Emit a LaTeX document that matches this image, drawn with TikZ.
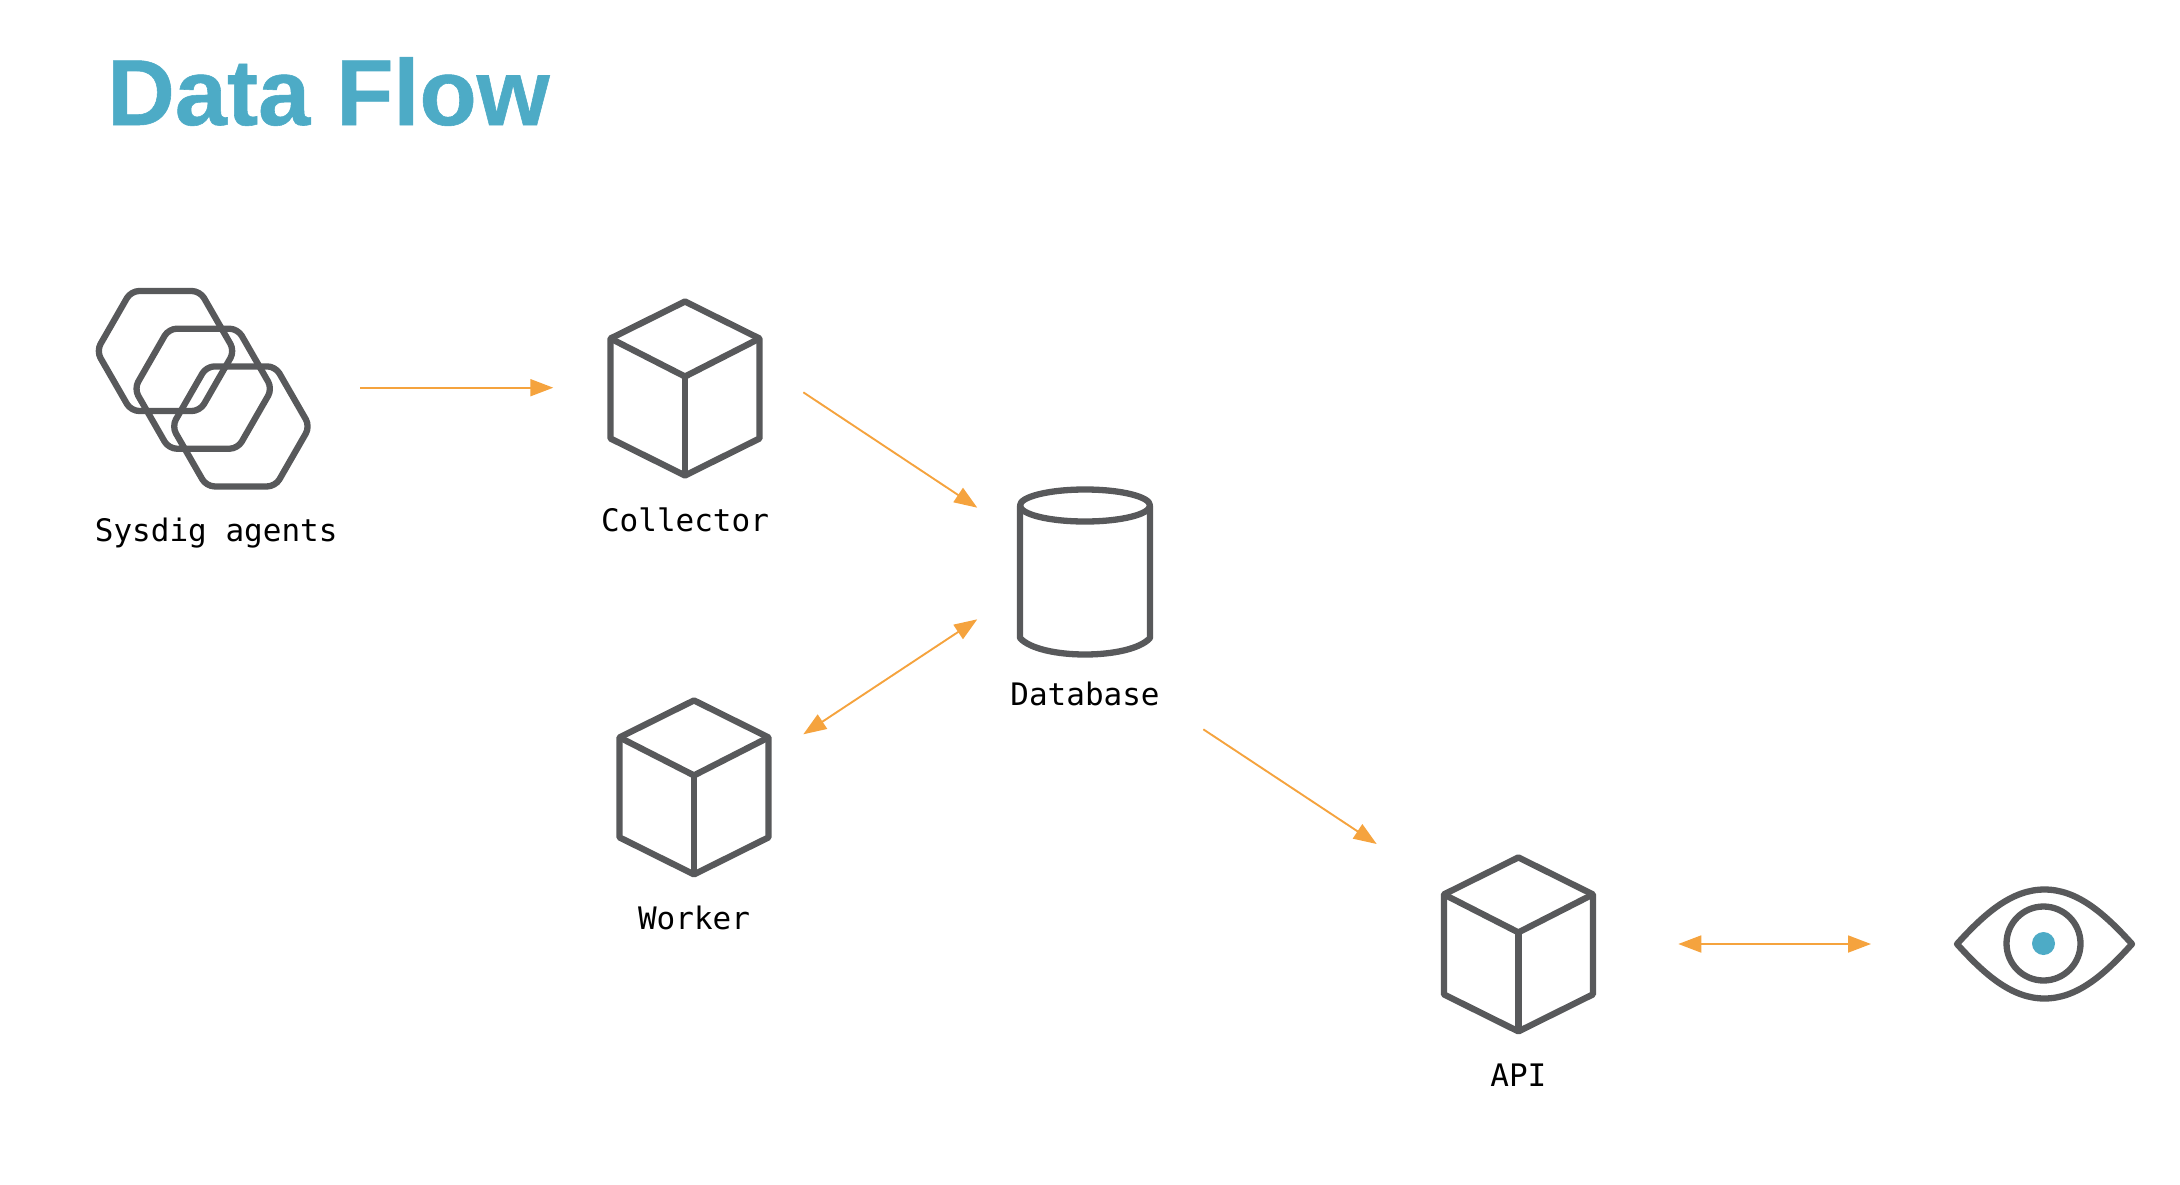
\documentclass[tikz,border=0pt]{standalone}
\usepackage{fontspec}
\setmainfont{Liberation Sans}
\setmonofont{DejaVu Sans Mono}
\newfontfamily\titlefont[BoldFeatures={FakeBold=0.6}]{Liberation Sans}
\usepackage{tikz}
\usetikzlibrary{positioning,arrows.meta}

\definecolor{icongray}{HTML}{58595B}
\definecolor{flowor}{HTML}{F5A33E}
\definecolor{sysblue}{HTML}{4DABC6}

\tikzset{
  cubeicon/.pic={
    \draw[icon] (0,-87) -- (74.5,-50) -- (74.5,50) -- (0,87) -- (-74.5,50) -- (-74.5,-50) -- cycle;
    \draw[icon] (-74.5,-50) -- (0,-12) -- (74.5,-50);
    \draw[icon] (0,-12) -- (0,87);
  },
  hexicon/.pic={
    \draw[icon, rounded corners=8pt] (-69,0) -- (-34.5,-60) -- (34.5,-60) -- (69,0) -- (34.5,60) -- (-34.5,60) -- cycle;
  },
  dbicon/.pic={
    \draw[icon] (-65,-64.5) -- (-65,68) .. controls (-45,90) and (45,90) .. (65,68) -- (65,-64.5);
    \draw[icon] (0,-64.5) ellipse (65pt and 16pt);
  }
}

\begin{document}
\begin{tikzpicture}[x=1pt, y=-1pt,
    icon/.style={%
      draw=icongray, line width=6.3pt, line join=round
    },
    flow/.style={%
      ->, >={Triangle[length=23pt,width=17pt]}, color=flowor, line width=1.9pt
    },
    flowboth/.style={%
      <->, >={Triangle[length=23pt,width=17pt]}, color=flowor, line width=1.9pt
    },
    cubebox/.style={%
      rectangle, draw=none, minimum width=149pt, minimum height=174pt, inner sep=0pt
    },
    lab/.style={%
      font=\ttfamily\fontsize{31}{31}\selectfont, text=black, inner sep=0pt,
      text height=23pt, text depth=7pt
    }
]
    \useasboundingbox (0,0) rectangle (2180,1184);

    \node[font=\titlefont\bfseries\fontsize{93.7}{94}\selectfont, text=sysblue, anchor=base west, inner sep=0pt] (title) at (107,125) {Data Flow};

    % agents
    \node[rectangle, draw=none, minimum width=214pt, minimum height=196pt, inner sep=0pt] (agents) at (203.2,388.7) {};
    \pic at (165.5,351) {hexicon};
    \pic at (agents) {hexicon};
    \pic at (240.9,426.4) {hexicon};
    \node[lab] (agentslab) [below = 31.7pt of agents, xshift=13pt] {Sysdig agents};

    % cubes
    \node[cubebox] (collector) at (685,388.5) {};
    \pic at (collector) {cubeicon};
    \node[lab] (collectorlab) [below = 33pt of collector] {Collector};

    \node[cubebox] (worker) [below = 224.5pt of collector, xshift=9pt] {};
    \pic at (worker) {cubeicon};
    \node[lab] (workerlab) [below = 32pt of worker] {Worker};

    \node[cubebox] (api) [right = 675pt of worker, yshift=-157pt] {};
    \pic at (api) {cubeicon};
    \node[lab] (apilab) [below = 32pt of api] {API};

    % database
    \node[rectangle, draw=none, minimum width=130pt, minimum height=162pt, inner sep=0pt] (database) at (1085,570) {};
    \pic at (database) {dbicon};
    \node[lab] (databaselab) [below = 31.5pt of database] {Database};

    % eye
    \node[circle, draw=icongray, line width=6.3pt, minimum size=74pt, inner sep=0pt] (eye) at (2043.5,943.5) {};
    \node[circle, fill=sysblue, minimum size=23pt, inner sep=0pt] (pupil) at (eye) {};
    \draw[icon] (1957,944) .. controls (1985,913) and (2012,889.5) .. (2044.5,889.5)
       .. controls (2077,889.5) and (2104,913) .. (2132,944)
       .. controls (2104,975) and (2077,998.5) .. (2044.5,998.5)
       .. controls (2012,998.5) and (1985,975) .. cycle;

    % ends of the arrows
    \coordinate (agentsout) at (360,387.7);
    \coordinate (collectorin) at (553.3,387.7);
    \coordinate (collectorout) at (803.3,392.3);
    \coordinate (databasein) at (977.3,507.7);
    \coordinate (databaseside) at (977.3,619.3);
    \coordinate (workerout) at (803.3,734.3);
    \coordinate (databaseout) at (1203.3,729.3);
    \coordinate (apiin) at (1376.7,844);
    \coordinate (apiout) at (1678.3,944);
    \coordinate (eyein) at (1871,944);

    \path[flow] (agentsout) edge (collectorin)
          (collectorout) edge (databasein)
          (databaseout) edge (apiin);
    \path[flowboth] (workerout) edge (databaseside)
          (apiout) edge (eyein);

\end{tikzpicture}
\end{document}
